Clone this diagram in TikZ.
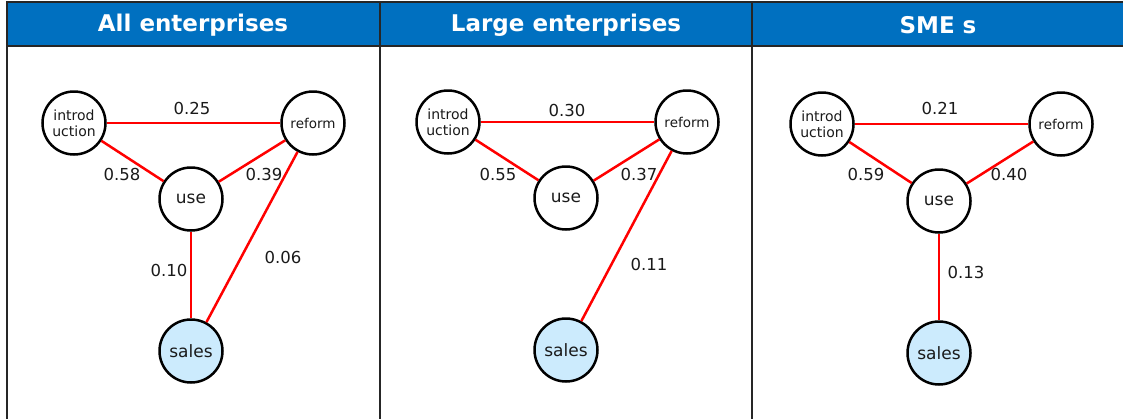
\documentclass[tikz,border=0pt]{standalone}
\usepackage{fontspec}
\setmainfont{DejaVu Sans}
\usepackage{tikz}
\usetikzlibrary{positioning}
\definecolor{hdrblue}{HTML}{0070C0}
\definecolor{salesfill}{HTML}{CCEBFD}
\definecolor{txtgray}{HTML}{1A1A1A}

\begin{document}
\begin{tikzpicture}[x=1pt,y=-1pt,
   every node/.style={text=txtgray},
   hdr/.style={font=\bfseries\fontsize{23}{26}\selectfont,text=white},
   fac/.style={draw=black,circle,line width=2.5pt,fill=white,minimum size=63pt,
               inner sep=0pt,align=center},
   sls/.style={fac,fill=salesfill},
   wgt/.style={font=\fontsize{16.5}{18}\selectfont,inner sep=1pt},
   ln/.style={red,line width=2.5pt}
]
\useasboundingbox (0,0) rectangle (1123,418);

% Frame and headers
\fill[hdrblue] (7,2) rectangle (1130,46);
\draw[black!85,line width=1.6pt] (7,2) rectangle (1130,440);
\draw[black!85,line width=1.6pt] (7,46) -- (1130,46);
\draw[black!85,line width=1.6pt] (380,2) -- (380,440);
\draw[black!85,line width=1.6pt] (752,2) -- (752,440);
\node[hdr] (H1) at (193,25) {All enterprises};
\node[hdr] (H2) at (566,25) {Large enterprises};
\node[hdr] (H3) at (938,25) {SME s};

% All enterprises
\node[fac,font=\fontsize{14}{16}\selectfont] (I1) at (74,123) {introd\\uction};
\node[fac,font=\fontsize{13.5}{15}\selectfont] (R1) at (313,123) {reform};
\node[fac,font=\fontsize{17}{19}\selectfont] (U1) at (191,199) {use};
\node[sls,font=\fontsize{17}{19}\selectfont] (S1) at (191,351) {sales};
\draw[ln] (I1) -- (R1);
\draw[ln] (I1) -- (U1);
\draw[ln] (R1) -- (U1);
\draw[ln] (U1) -- (S1);
\draw[ln] (R1) -- (S1);
\node[wgt] (w1a) at (192,108) {0.25};
\node[wgt] (w1b) at (122,174) {0.58};
\node[wgt] (w1c) at (264,174) {0.39};
\node[wgt] (w1d) at (169,270) {0.10};
\node[wgt] (w1e) at (283,257) {0.06};

% Large enterprises
\node[fac,font=\fontsize{14}{16}\selectfont] (I2) at (448,122) {introd\\uction};
\node[fac,font=\fontsize{13.5}{15}\selectfont] (R2) at (687,122) {reform};
\node[fac,font=\fontsize{17}{19}\selectfont] (U2) at (566,198) {use};
\node[sls,font=\fontsize{17}{19}\selectfont] (S2) at (566,350) {sales};
\draw[ln] (I2) -- (R2);
\draw[ln] (I2) -- (U2);
\draw[ln] (R2) -- (U2);
\draw[ln] (R2) -- (S2);
\node[wgt] (w2a) at (567,110) {0.30};
\node[wgt] (w2b) at (498,174) {0.55};
\node[wgt] (w2c) at (639,174) {0.37};
\node[wgt] (w2d) at (649,264) {0.11};

% SMEs
\node[fac,font=\fontsize{14}{16}\selectfont] (I3) at (822,124) {introd\\uction};
\node[fac,font=\fontsize{13.5}{15}\selectfont] (R3) at (1061,124) {reform};
\node[fac,font=\fontsize{17}{19}\selectfont] (U3) at (939,201) {use};
\node[sls,font=\fontsize{17}{19}\selectfont] (S3) at (939,353) {sales};
\draw[ln] (I3) -- (R3);
\draw[ln] (I3) -- (U3);
\draw[ln] (R3) -- (U3);
\draw[ln] (U3) -- (S3);
\node[wgt] (w3a) at (940,108) {0.21};
\node[wgt] (w3b) at (866,174) {0.59};
\node[wgt] (w3c) at (1009,174) {0.40};
\node[wgt] (w3d) at (966,272) {0.13};

\end{tikzpicture}
\end{document}
